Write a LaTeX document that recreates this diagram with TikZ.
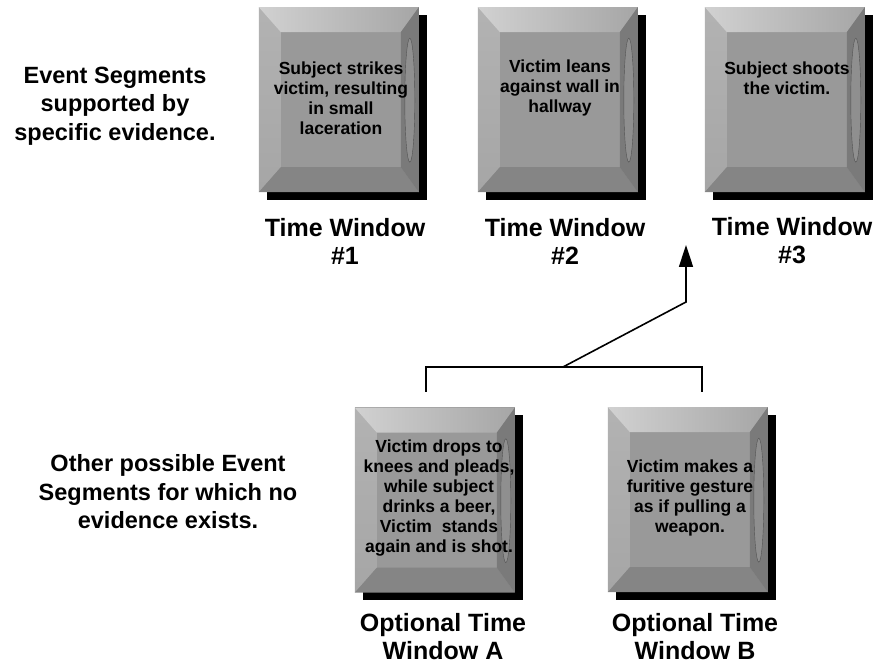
\documentclass[tikz,border=0pt]{standalone}
\usepackage{fontspec}
\setmainfont{Liberation Sans}
\usepackage{tikz}
\usetikzlibrary{arrows.meta, shadows, positioning, calc}

\begin{document}
\begin{tikzpicture}[x=1pt,y=1pt,
        win/.style={rectangle,minimum width=160pt,minimum height=185pt,
                    inner sep=0pt,fill=black!40,
                    drop shadow={shadow xshift=8pt,shadow yshift=-8pt,
                                 fill=black,opacity=1}},
        wtxt/.style={font=\bfseries\fontsize{17.5}{20}\selectfont,align=center},
        lbl/.style={font=\bfseries\fontsize{25}{28}\selectfont,align=center},
        side/.style={font=\bfseries\fontsize{23.5}{28.5}\selectfont,align=center},
        link/.style={black,line width=1.6pt},
        arr/.style={link,-{Triangle[length=22pt,width=14pt]}}
      ]
        \useasboundingbox (0,0) rectangle (878,666);
        % Evidence windows
        \node[win] (w1) at (339,566.5) {};
        \node[win] (w2) at (558,566.5) {};
        \node[win] (w3) at (785,566.5) {};
        % Optional windows
        \node[win] (wa) at (435,166) {};
        \node[win] (wb) at (688,166.5) {};
        % Bevels
        \foreach \w in {w1,w2,w3,wa,wb}{
          \begin{scope}[shift={(\w.south west)}]
            \shade[top color=black!30,middle color=white,bottom color=black!35]
              (0,0) -- (22,25) -- (22,160) -- (0,185) -- cycle;
            \shade[left color=black!18,right color=black!35]
              (0,185) -- (160,185) -- (142,160) -- (22,160) -- cycle;
            \shade[left color=black!48,middle color=black!22,right color=black!48]
              (0,0) -- (160,0) -- (142,25) -- (22,25) -- cycle;
            \fill[black!52] (160,0) -- (160,185) -- (142,160) -- (142,25) -- cycle;
            \draw[black!68,fill=black!44] (151,92) ellipse (5 and 62);
          \end{scope}
        }
        \node[wtxt] (t1) at (341,568) {Subject strikes\\victim, resulting\\in small\\laceration};
        \node[wtxt] (t2) at (560,578) {Victim leans\\against wall in\\hallway};
        \node[wtxt] (t3) at (787,588) {Subject shoots\\the victim.};
        \node[lbl] (l1) at (345,425) {Time Window\\\#1};
        \node[lbl] (l2) at (565,425) {Time Window\\\#2};
        \node[lbl] (l3) at (792,425) {Time Window\\\#3};
        \node[side] (s1) at (115,560) {Event Segments\\supported by\\specific evidence.};
        \node[wtxt] (ta) at (439,168) {Victim drops to\\knees and pleads,\\while subject\\drinks a beer,\\Victim~ stands\\again and is shot.};
        \node[wtxt] (tb) at (690,168) {Victim makes a\\furitive gesture\\as if pulling a\\weapon.};
        \node[lbl] (la) at (443,29) {Optional Time\\Window A};
        \node[lbl] (lb) at (695,29) {Optional Time\\Window B};
        \node[side] (s2) at (168,174) {Other possible Event\\Segments for which no\\evidence exists.};
        % Insertion arrow
        \coordinate (ja) at (426,274);
        \coordinate (jb) at (702,274);
        \coordinate (jm) at (563,299);
        \coordinate (bend) at (686,364);
        \coordinate (tip) at (686,421);
        \draw[link] (ja) -- (ja |- jm) -- (jb |- jm) -- (jb);
        \draw[arr] (jm) -- (bend) -- (tip);
      \end{tikzpicture}
\end{document}
